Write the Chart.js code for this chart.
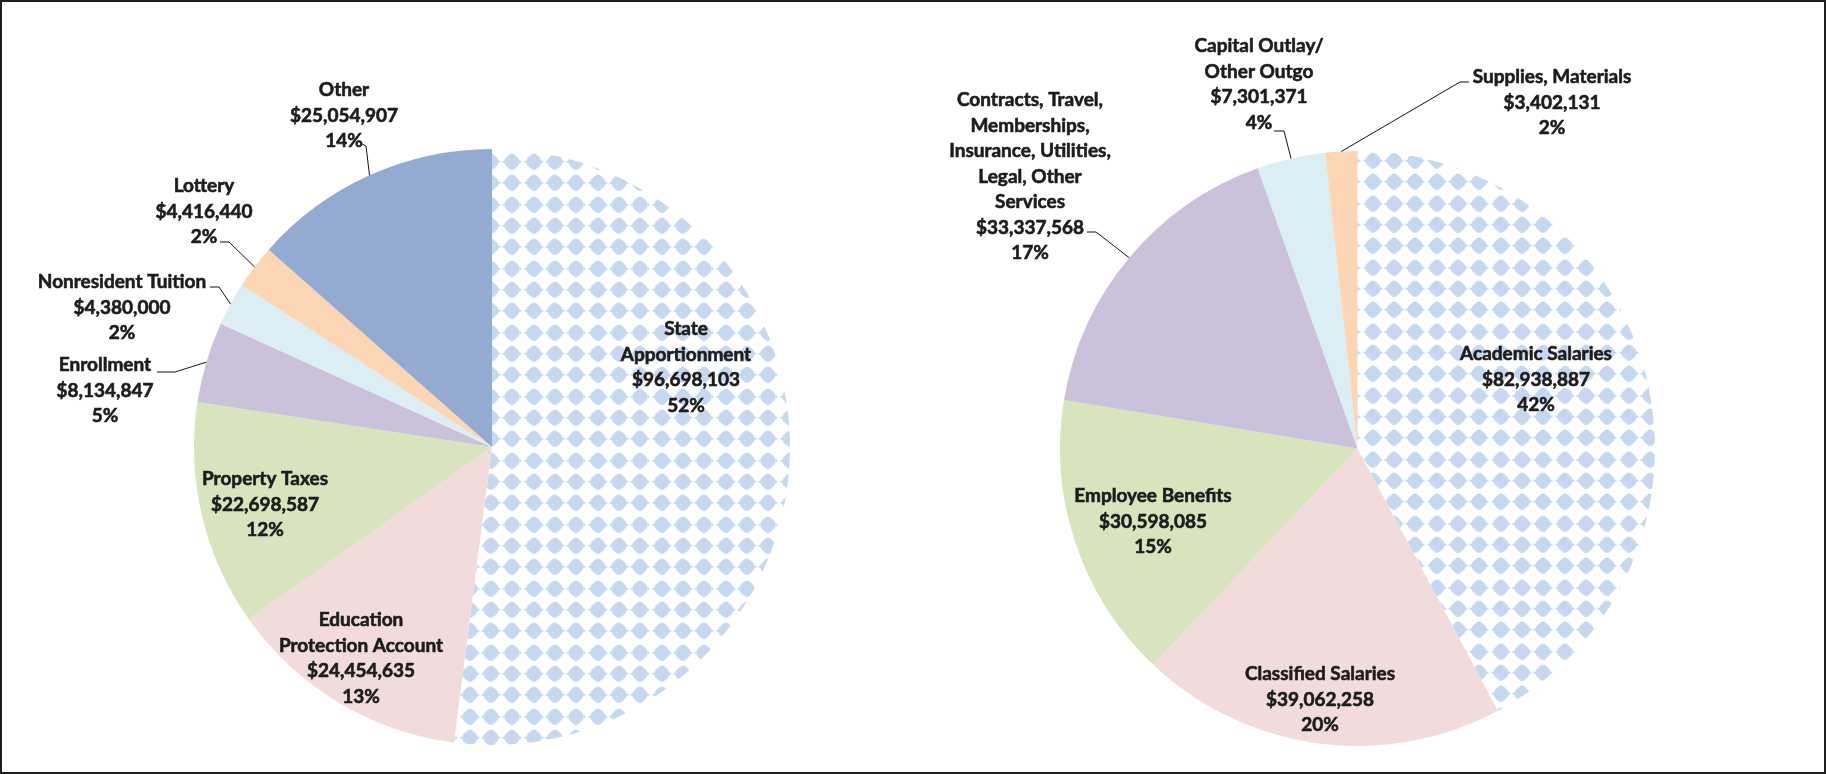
<!DOCTYPE html>
<html>
<head>
<meta charset="utf-8">
<script src="https://cdn.jsdelivr.net/npm/chart.js@4.4.0/dist/chart.umd.min.js"></script>
<style>
  html, body { margin: 0; padding: 0; background: #fff; }
  #wrap { position: relative; width: 1826px; height: 774px; overflow: hidden; }
  #frame { position: absolute; left: 0; top: 0; width: 1826px; height: 774px; box-sizing: border-box; border: 2px solid #1e1e1e; pointer-events: none; }
  canvas { position: absolute; top: 0; }
  #revenue { left: 0; }
  #expense { left: 913px; }
</style>
</head>
<body>
<div id="wrap">
  <canvas id="revenue" width="913" height="774"></canvas>
  <canvas id="expense" width="913" height="774"></canvas>
  <div id="frame"></div>
</div>
<script>
// revenue pie (left)
var revenueNames = [
  ["State", "Apportionment"],
  ["Education", "Protection Account"],
  ["Property Taxes"],
  ["Enrollment"],
  ["Nonresident Tuition"],
  ["Lottery"],
  ["Other"],
];
var revenueValues = [96698103, 24454635, 22698587, 8134847, 4380000, 4416440, 25054907];
var revenuePercents = ["52%", "13%", "12%", "5%", "2%", "2%", "14%"];

// expense pie (right)
var expenseNames = [
  ["Academic Salaries"],
  ["Classified Salaries"],
  ["Employee Benefits"],
  ["Contracts, Travel,", "Memberships,", "Insurance, Utilities,", "Legal, Other", "Services"],
  ["Capital Outlay/", "Other Outgo"],
  ["Supplies, Materials"],
];
var expenseValues = [82938887, 39062258, 30598085, 33337568, 7301371, 3402131];
var expensePercents = ["42%", "20%", "15%", "17%", "4%", "2%"];

var LINE = 25.5;
var FONT = "bold 19px Lato";
var TEXT = "#1c1c1c";

// label placement: first line centre, optional leader start + elbow
var revenuePlaces = [
  { x: 686, y: 329 },
  { x: 361, y: 620 },
  { x: 265, y: 479 },
  { x: 105, y: 365, leader: [157, 372, 175, 372] },
  { x: 122, y: 282, leader: [210, 287, 219, 287] },
  { x: 204, y: 186, leader: [220, 242, 229, 242] },
  { x: 344, y: 90, leader: [362, 144, 366, 146] },
];
var expensePlaces = [
  { x: 623, y: 354 },
  { x: 407, y: 674 },
  { x: 240, y: 496 },
  { x: 117, y: 100, leader: [174, 232, 183, 232] },
  { x: 346, y: 46, leader: [361, 131, 371, 131] },
  { x: 639, y: 77, leader: [556, 82, 547, 82] },
];

function money(v) {
  return "$" + v.toLocaleString("en-US");
}

// light blue diamond fill, roughly Excel's dotted diamond pattern
function diamondPattern(ctx, ox, oy) {
  var tile = document.createElement("canvas");
  tile.width = 64;
  tile.height = 64;
  var t = tile.getContext("2d");
  t.fillStyle = "#c6d8f0";
  var step = 64 / 3;
  var halfRows = [8, 7.5, 7, 6.5, 5.5, 4.5, 3.5, 2];
  for (var i = 0; i < 3; i++) {
    for (var j = 0; j < 3; j++) {
      var cx = Math.round(step * i + step / 2);
      var cy = Math.round(step * j + step / 2);
      for (var yy = -8; yy < 8; yy++) {
        var d = Math.floor(Math.abs(yy + 0.5));
        var hw = halfRows[d];
        if (d === 0) hw = 9.5;
        t.fillRect(cx - hw, cy + yy, hw * 2, 1);
      }
    }
  }
  var pat = ctx.createPattern(tile, "repeat");
  pat.setTransform(new DOMMatrix().translate(ox, oy));
  return pat;
}

function makeLabels(names, values, percents, places) {
  return {
    id: "pieLabels",
    afterDatasetsDraw: function (chart) {
      var ctx = chart.ctx;
      var meta = chart.getDatasetMeta(0);
      ctx.save();
      ctx.font = FONT;
      ctx.fillStyle = TEXT;
      ctx.textAlign = "center";
      ctx.textBaseline = "middle";
      places.forEach(function (p, i) {
        var lines = names[i].concat([money(values[i]), percents[i]]);
        lines.forEach(function (s, k) {
          // a thin stroke to get closer to the heavy Calibri bold
          ctx.strokeStyle = TEXT;
          ctx.lineWidth = 0.6;
          ctx.strokeText(s, p.x, p.y + k * LINE);
          ctx.fillText(s, p.x, p.y + k * LINE);
        });
        if (p.leader) {
          var arc = meta.data[i];
          var mid = (arc.startAngle + arc.endAngle) / 2;
          var ex = arc.x + Math.cos(mid) * arc.outerRadius;
          var ey = arc.y + Math.sin(mid) * arc.outerRadius;
          ctx.strokeStyle = "#111";
          ctx.lineWidth = 1;
          ctx.beginPath();
          ctx.moveTo(p.leader[0], p.leader[1]);
          ctx.lineTo(p.leader[2], p.leader[3]);
          ctx.lineTo(ex, ey);
          ctx.stroke();
        }
      });
      ctx.restore();
    },
  };
}

var revCanvas = document.getElementById("revenue");
var revColors = [
  diamondPattern(revCanvas.getContext("2d"), 10.9, 1.7),
  "#f2dcdb",
  "#d7e4bd",
  "#ccc1da",
  "#dbeef4",
  "#fcd5b5",
  "#94aad0",
];

new Chart(revCanvas, {
  type: "pie",
  data: {
    labels: revenueNames.map(function (n) { return n.join(" "); }),
    datasets: [{ data: revenueValues, backgroundColor: revColors, borderWidth: 0 }],
  },
  options: {
    responsive: false,
    animation: false,
    layout: { padding: { left: 194, right: 123, top: 149, bottom: 29 } },
    plugins: { legend: { display: false }, tooltip: { enabled: false } },
  },
  plugins: [makeLabels(revenueNames, revenueValues, revenuePercents, revenuePlaces)],
});

var expCanvas = document.getElementById("expense");
var expColors = [
  diamondPattern(expCanvas.getContext("2d"), 1.0, 0.7),
  "#f2dcdb",
  "#d7e4bd",
  "#ccc1da",
  "#dbeef4",
  "#fcd5b5",
];

new Chart(expCanvas, {
  type: "pie",
  data: {
    labels: expenseNames.map(function (n) { return n.join(" "); }),
    datasets: [{ data: expenseValues, backgroundColor: expColors, borderWidth: 0 }],
  },
  options: {
    responsive: false,
    animation: false,
    layout: { padding: { left: 147, right: 171, top: 151, bottom: 28 } },
    plugins: { legend: { display: false }, tooltip: { enabled: false } },
  },
  plugins: [makeLabels(expenseNames, expenseValues, expensePercents, expensePlaces)],
});
</script>
</body>
</html>
